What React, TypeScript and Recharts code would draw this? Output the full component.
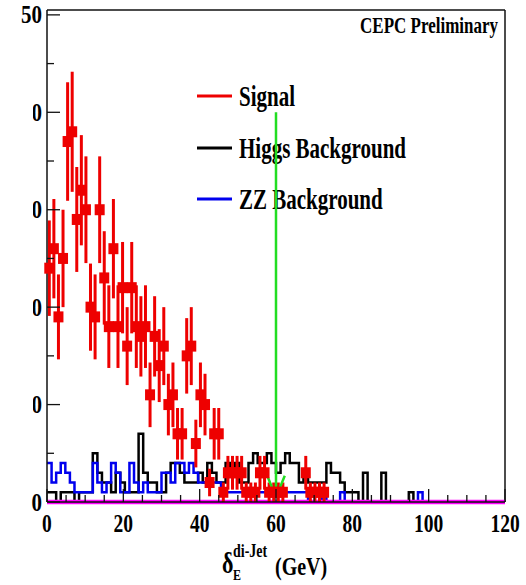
import React from 'react';
import { ComposedChart, Line, Scatter, ErrorBar, XAxis, YAxis, ReferenceLine } from 'recharts';

// ---------- data ----------
const BIN_WIDTH = 1.2; // GeV per bin (100 bins over 0-120)

// Signal counts per bin (null = empty bin, no marker)
const signalCounts: (number | null)[] = [
  24, 26, 19, 25, 37, 38, 29, 32, 30, 20,
  19, 30, 23, 18, 26, 18, 22, 16, 22, 18,
  17, 18, 11, 17, 14, 16, 10, 11, 7, 7,
  15, 16, 6, 11, 10, 2, 7, 7, 1, 3,
  3, 3, 3, 1, 1, 1, 3, 3, 1, 1,
  1, 1, null, null, null, null, 3, 1, 1, 1,
  1,
];

// Higgs background counts per bin
const higgsCounts: number[] = [
  1, 1, 0, 1, 1, 1, 0, 1, 1, 1,
  5, 3, 2, 2, 1, 3, 2, 1, 1, 1,
  7, 3, 2, 2, 1, 1, 3, 4, 4, 3,
  2, 2, 2, 3, 2, 4, 3, 2, 2, 4,
  3, 4, 2, 2, 4, 5, 4, 4, 5, 4,
  3, 4, 5, 4, 4, 2, 3, 2, 2, 2,
  2, 4, 3, 3, 2, 1, 1, 1, 0, 3,
  0, 0, 0, 3, 0, 0, 0, 0, 0, 1,
  0, 0, 0,
];

// ZZ background counts per bin
const zzCounts: number[] = [
  4, 2, 3, 4, 3, 2, 1, 1, 1, 1,
  4, 2, 1, 2, 4, 3, 1, 1, 4, 2,
  1, 2, 1, 1, 1, 3, 3, 2, 4, 4,
  3, 4, 3, 2, 2, 2, 2, 2, 1, 1,
  1, 1, 1, 1, 1, 1, 1, 1, 1, 1,
  1, 1, 1, 1, 1, 1, 1, 0, 0, 0,
  1, 0, 0, 0, 1, 0, 0, 0, 0, 0,
  0, 0, 0, 0, 0, 0, 0, 0, 0, 0,
  0, 1, 0,
];

const baselineLevel = [
  { x: 0, y: 0 },
  { x: 120, y: 0 },
];

const xTicks = [0, 5, 10, 15, 20, 25, 30, 35, 40, 45, 50, 55, 60, 65, 70, 75, 80, 85, 90, 95, 100, 105, 110, 115, 120];
const yTicks = [0, 5, 10, 15, 20, 25, 30, 35, 40, 45, 50];
const X_MAX = 120;
const Y_MAX = 50.5;
const CUT_VALUE = 60; // arrow position (GeV)
const CUT_ARROW_TOP = 40;

const legendItems = [
  { label: 'Signal', color: '#ee0000' },
  { label: 'Higgs Background', color: '#000000' },
  { label: 'ZZ Background', color: '#0000ee' },
];

// ---------- derived chart tables ----------
const signalData = signalCounts
  .map((c, i) => (c == null ? null : { x: (i + 0.5) * BIN_WIDTH, y: c, err: Math.sqrt(c) }))
  .filter((d): d is { x: number; y: number; err: number } => d !== null);

const toSteps = (counts: number[]) => [
  ...counts.map((c, i) => ({ x: +(i * BIN_WIDTH).toFixed(3), y: c })),
  { x: +(counts.length * BIN_WIDTH).toFixed(3), y: 0 },
];
const higgsSteps = toSteps(higgsCounts);
const zzSteps = toSteps(zzCounts);

const FONT = "'Liberation Serif', 'Times New Roman', 'DejaVu Serif', serif";

function XTick(props: any) {
  const { x, y, payload } = props;
  const v = payload.value as number;
  const major = v % 20 === 0;
  return (
    <g>
      <line x1={x} x2={x} y1={y} y2={y - (major ? 13 : 7)} stroke="#111" strokeWidth={1.3} />
      {major && (
        <text
          transform={`translate(${x},${y + 30}) scale(1,1.3)`}
          textAnchor="middle"
          fontFamily={FONT}
          fontWeight="bold"
          fontSize={19.5}
          fill="#000"
        >
          {v}
        </text>
      )}
    </g>
  );
}

function YTick(props: any) {
  const { x, y, payload, index } = props;
  const v = payload.value as number;
  const major = v % 10 === 0;
  const clipped = v > 0 && v < 50;
  const clipId = `ytick-clip-${index}`;
  return (
    <g>
      <line x1={x} x2={x + (major ? 13 : 7)} y1={y} y2={y} stroke="#111" strokeWidth={1.3} />
      {major && (
        <>
          {clipped && (
            <defs>
              <clipPath id={clipId}>
                <rect x={33} y={y - 25} width={30} height={50} />
              </clipPath>
            </defs>
          )}
          <g clipPath={clipped ? `url(#${clipId})` : undefined}>
            <text
              transform={`translate(${x - 5},${y + 8.5}) scale(1,1.22)`}
              textAnchor="end"
              fontFamily={FONT}
              fontWeight="bold"
              fontSize={21}
              fill="#000"
            >
              {v}
            </text>
          </g>
        </>
      )}
    </g>
  );
}

const SignalMarker = (props: any) => {
  const { cx, cy } = props;
  if (cx == null || cy == null) return null;
  return <rect x={cx - 5} y={cy - 5.5} width={10} height={11} fill="#ee0000" />;
};

export default function App() {
  const legendRowY = [96, 148, 199];
  return (
    <div style={{ position: 'absolute', left: 0, top: 0, width: 526, height: 585, background: '#fff' }}>
      <svg width={526} height={585} style={{ position: 'absolute', left: 0, top: 0 }}>
        <text
          transform="translate(498,33) scale(1,1.32)"
          textAnchor="end"
          fontFamily={FONT}
          fontWeight="bold"
          fontSize={17}
          fill="#000"
        >
          CEPC Preliminary
        </text>
        {legendItems.map((item, i) => (
          <g key={item.label}>
            <line x1={197} x2={232} y1={legendRowY[i]} y2={legendRowY[i]} stroke={item.color} strokeWidth={3} />
            <text
              transform={`translate(239,${legendRowY[i] + 9.5}) scale(1,1.4)`}
              fontFamily={FONT}
              fontWeight="bold"
              fontSize={21}
              fill="#000"
            >
              {item.label}
            </text>
          </g>
        ))}
        <g fontFamily={FONT} fontWeight="bold" fill="#000">
          <text transform="translate(222,573) scale(1,1.3)" fontSize={22}>δ</text>
          <text transform="translate(233,557) scale(1,1.3)" fontSize={14}>di-Jet</text>
          <text transform="translate(233,580) scale(1,1.3)" fontSize={12}>E</text>
          <text transform="translate(275,575) scale(1,1.25)" fontSize={20}>(GeV)</text>
        </g>
      </svg>
      <div style={{ position: 'absolute', left: 0, top: 0 }}>
        <ComposedChart width={526} height={585} margin={{ top: 10, right: 21, bottom: 43, left: 7 }}>
          <XAxis
            dataKey="x"
            type="number"
            domain={[0, X_MAX]}
            ticks={xTicks}
            interval={0}
            height={40}
            tickSize={0}
            tickMargin={0}
            tickLine={false}
            axisLine={{ stroke: '#111', strokeWidth: 1.5 }}
            tick={<XTick />}
          />
          <YAxis
            type="number"
            domain={[0, Y_MAX]}
            ticks={yTicks}
            interval={0}
            width={40}
            tickSize={0}
            tickMargin={0}
            tickLine={false}
            axisLine={{ stroke: '#111', strokeWidth: 1.5 }}
            tick={<YTick />}
          />
          <ReferenceLine y={Y_MAX} stroke="#111" strokeWidth={1.5} />
          <ReferenceLine x={X_MAX} stroke="#111" strokeWidth={1.5} />
          <Line
            data={higgsSteps}
            dataKey="y"
            type="stepAfter"
            stroke="#000"
            strokeWidth={2.5}
            dot={false}
            isAnimationActive={false}
          />
          <Line
            data={zzSteps}
            dataKey="y"
            type="stepAfter"
            stroke="#0000ee"
            strokeWidth={2.5}
            dot={false}
            isAnimationActive={false}
          />
          <Line
            data={baselineLevel}
            dataKey="y"
            type="linear"
            stroke="#ff00ff"
            strokeWidth={4.5}
            dot={false}
            isAnimationActive={false}
          />
          <Scatter data={signalData} dataKey="y" shape={<SignalMarker />} isAnimationActive={false}>
            <ErrorBar dataKey="err" direction="y" width={0} stroke="#ee0000" strokeWidth={3} />
          </Scatter>
          <ReferenceLine
            segment={[{ x: CUT_VALUE, y: CUT_ARROW_TOP }, { x: CUT_VALUE, y: 0.5 }]}
            stroke="#22dd22"
            strokeWidth={2.5}
          />
          <ReferenceLine
            segment={[{ x: CUT_VALUE - 2.3, y: 2.7 }, { x: CUT_VALUE, y: 0.5 }]}
            stroke="#22dd22"
            strokeWidth={2.5}
          />
          <ReferenceLine
            segment={[{ x: CUT_VALUE + 2.3, y: 2.7 }, { x: CUT_VALUE, y: 0.5 }]}
            stroke="#22dd22"
            strokeWidth={2.5}
          />
        </ComposedChart>
      </div>
    </div>
  );
}
